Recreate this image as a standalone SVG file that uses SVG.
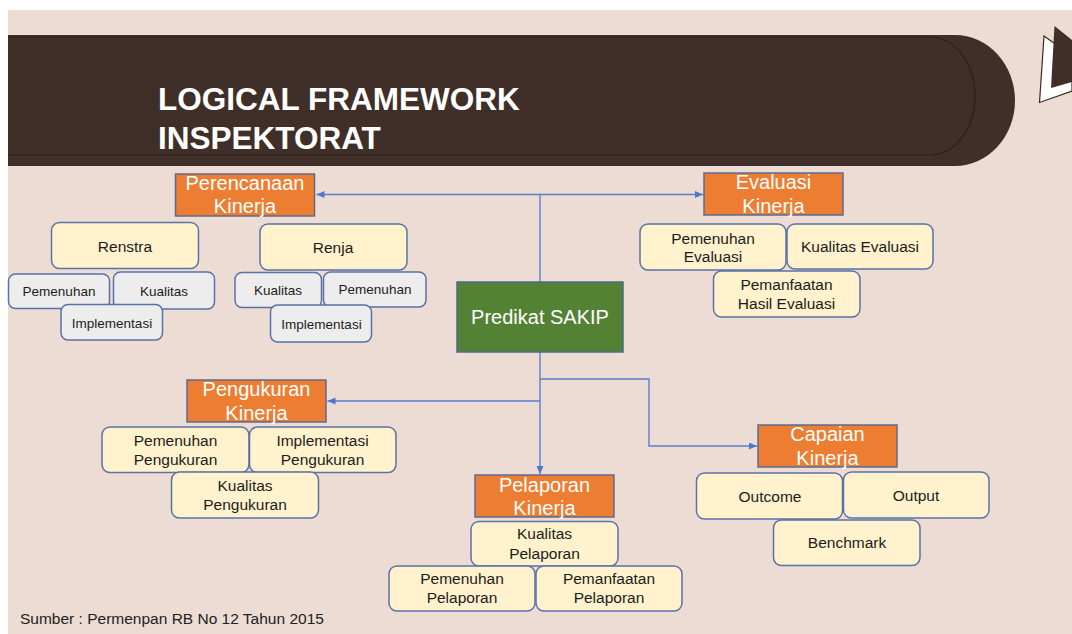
<svg xmlns="http://www.w3.org/2000/svg" width="1072" height="634" viewBox="0 0 1072 634">
  <defs>
    <marker id="arr" markerUnits="userSpaceOnUse" markerWidth="9" markerHeight="8" refX="8" refY="3.5" orient="auto">
      <path d="M0,0 L8,3.5 L0,7 Z" fill="#4f77cc"/>
    </marker>
    <style>
      text { font-family: "Liberation Sans", Arial, sans-serif; }
      .orange { fill: #ED7D31; stroke: #5d6a92; stroke-width: 1.5; }
      .green { fill: #548235; stroke: #4a6a8e; stroke-width: 1.5; }
      .yel { fill: #FFF2CC; stroke: #5a72a8; stroke-width: 1.5; }
      .grey { fill: #EDEDED; stroke: #5a72a8; stroke-width: 1.5; }
      .wt { fill: #ffffff; font-size: 20px; text-anchor: middle; }
      .bt { fill: #1c1c1c; font-size: 15.5px; text-anchor: middle; }
      .st { fill: #1c1c1c; font-size: 13.5px; text-anchor: middle; }
      .conn { fill: none; stroke: #5a7fcc; stroke-width: 1.4; }
    </style>
  </defs>

  <rect x="0" y="0" width="1072" height="634" fill="#ffffff"/>
  <rect x="8" y="10" width="1064" height="624" fill="#ECDCD3"/>

  <g id="banner">
    <path d="M8,35 H955 A60,65.5 0 0 1 955,166 H8 Z" fill="#402E28"/>
    <path d="M8,155 H930 A45,59 0 0 0 975,96 A45,59 0 0 0 930,37 H8" fill="none" stroke="#2c1f1a" stroke-width="1.2"/>
    <text x="158" y="110" fill="#ffffff" font-size="31.5" font-weight="bold">LOGICAL FRAMEWORK</text>
    <text x="158" y="149" fill="#ffffff" font-size="31.5" font-weight="bold">INSPEKTORAT</text>
  </g>

  <g id="decoration">
    <polygon points="1044,36 1072,56 1072,91 1039.5,102.5" fill="#ffffff" stroke="#3a2a24" stroke-width="1.2"/>
    <polygon points="1054.5,26 1072,40 1072,82 1051,88" fill="#402E28"/>
  </g>

  <g id="connectors">
    <path class="conn" d="M540,282 V194.5 H316.5" marker-end="url(#arr)"/>
    <path class="conn" d="M540,194.5 H703" marker-end="url(#arr)"/>
    <path class="conn" d="M540,352 V474" marker-end="url(#arr)"/>
    <path class="conn" d="M540,401 H327.5" marker-end="url(#arr)"/>
    <path class="conn" d="M540,379 H649 V446 H757" marker-end="url(#arr)"/>
  </g>

  <g id="predikat">
    <rect class="green" x="457" y="282" width="166" height="70"/>
    <text class="wt" x="540" y="324">Predikat SAKIP</text>
  </g>

  <g id="perencanaan">
    <rect class="orange" x="175.5" y="174" width="139" height="42"/>
    <text class="wt" x="245" y="190">Perencanaan</text>
    <text class="wt" x="245" y="213">Kinerja</text>
  </g>
  <g id="evaluasi">
    <rect class="orange" x="704" y="173" width="139" height="42"/>
    <text class="wt" x="773.5" y="189">Evaluasi</text>
    <text class="wt" x="773.5" y="213">Kinerja</text>
  </g>
  <g id="pengukuran">
    <rect class="orange" x="187" y="380" width="139" height="42"/>
    <text class="wt" x="256.5" y="396">Pengukuran</text>
    <text class="wt" x="256.5" y="420">Kinerja</text>
  </g>
  <g id="pelaporan">
    <rect class="orange" x="475" y="475" width="139" height="42"/>
    <text class="wt" x="544.5" y="492">Pelaporan</text>
    <text class="wt" x="544.5" y="515">Kinerja</text>
  </g>
  <g id="capaian">
    <rect class="orange" x="758" y="425" width="139" height="42"/>
    <text class="wt" x="827.5" y="441">Capaian</text>
    <text class="wt" x="827.5" y="465">Kinerja</text>
  </g>

  <g id="renstra">
    <rect class="yel" x="51.5" y="222.5" width="147" height="46" rx="8"/>
    <text class="bt" x="125" y="252">Renstra</text>
  </g>
  <g id="renja">
    <rect class="yel" x="260" y="224" width="147" height="46" rx="8"/>
    <text class="bt" x="333" y="252.5">Renja</text>
  </g>

  <g id="renstra-pemenuhan">
    <rect class="grey" x="8.5" y="274" width="101" height="34.5" rx="7"/>
    <text class="st" x="59" y="296">Pemenuhan</text>
  </g>
  <g id="renstra-kualitas">
    <rect class="grey" x="113.5" y="272" width="101" height="37" rx="7"/>
    <text class="st" x="164" y="295.5">Kualitas</text>
  </g>
  <g id="renstra-implementasi">
    <rect class="grey" x="61" y="304.5" width="101.5" height="35.5" rx="7"/>
    <text class="st" x="112" y="327.5">Implementasi</text>
  </g>
  <g id="renja-kualitas">
    <rect class="grey" x="235" y="272.5" width="86.5" height="35" rx="7"/>
    <text class="st" x="278" y="294.5">Kualitas</text>
  </g>
  <g id="renja-pemenuhan">
    <rect class="grey" x="323.5" y="272" width="102.5" height="35" rx="7"/>
    <text class="st" x="375" y="293.5">Pemenuhan</text>
  </g>
  <g id="renja-implementasi">
    <rect class="grey" x="270.5" y="305" width="101" height="37" rx="7"/>
    <text class="st" x="321.5" y="328.5">Implementasi</text>
  </g>

  <g id="pemenuhan-evaluasi">
    <rect class="yel" x="640" y="224" width="146" height="46" rx="8"/>
    <text class="bt" x="713" y="243.5">Pemenuhan</text>
    <text class="bt" x="713" y="262">Evaluasi</text>
  </g>
  <g id="kualitas-evaluasi">
    <rect class="yel" x="787" y="224" width="146" height="45" rx="8"/>
    <text class="bt" x="860" y="252">Kualitas Evaluasi</text>
  </g>
  <g id="pemanfaatan-evaluasi">
    <rect class="yel" x="713.5" y="271" width="146.5" height="46" rx="8"/>
    <text class="bt" x="786.5" y="290">Pemanfaatan</text>
    <text class="bt" x="786.5" y="309">Hasil Evaluasi</text>
  </g>

  <g id="pemenuhan-pengukuran">
    <rect class="yel" x="102" y="427" width="147" height="45.5" rx="8"/>
    <text class="bt" x="175.5" y="446">Pemenuhan</text>
    <text class="bt" x="175.5" y="465">Pengukuran</text>
  </g>
  <g id="implementasi-pengukuran">
    <rect class="yel" x="249.5" y="427" width="146.5" height="45.5" rx="8"/>
    <text class="bt" x="322.5" y="446">Implementasi</text>
    <text class="bt" x="322.5" y="465">Pengukuran</text>
  </g>
  <g id="kualitas-pengukuran">
    <rect class="yel" x="171.5" y="472" width="147" height="46" rx="8"/>
    <text class="bt" x="245" y="491">Kualitas</text>
    <text class="bt" x="245" y="510">Pengukuran</text>
  </g>

  <g id="kualitas-pelaporan">
    <rect class="yel" x="471" y="521.5" width="147" height="44.5" rx="8"/>
    <text class="bt" x="544.5" y="539">Kualitas</text>
    <text class="bt" x="544.5" y="558.5">Pelaporan</text>
  </g>
  <g id="pemenuhan-pelaporan">
    <rect class="yel" x="389" y="566" width="146" height="45" rx="8"/>
    <text class="bt" x="462" y="583.5">Pemenuhan</text>
    <text class="bt" x="462" y="603">Pelaporan</text>
  </g>
  <g id="pemanfaatan-pelaporan">
    <rect class="yel" x="536" y="566" width="146" height="45" rx="8"/>
    <text class="bt" x="609" y="583.5">Pemanfaatan</text>
    <text class="bt" x="609" y="603">Pelaporan</text>
  </g>

  <g id="outcome">
    <rect class="yel" x="696.5" y="473" width="146" height="46" rx="8"/>
    <text class="bt" x="770" y="502">Outcome</text>
  </g>
  <g id="output">
    <rect class="yel" x="843.5" y="472" width="145.5" height="46" rx="8"/>
    <text class="bt" x="916" y="501">Output</text>
  </g>
  <g id="benchmark">
    <rect class="yel" x="773.5" y="520" width="146.5" height="45.5" rx="8"/>
    <text class="bt" x="847" y="547.5">Benchmark</text>
  </g>

  <text x="20" y="623.5" fill="#222222" font-size="15.5">Sumber : Permenpan RB No 12 Tahun 2015</text>
</svg>
